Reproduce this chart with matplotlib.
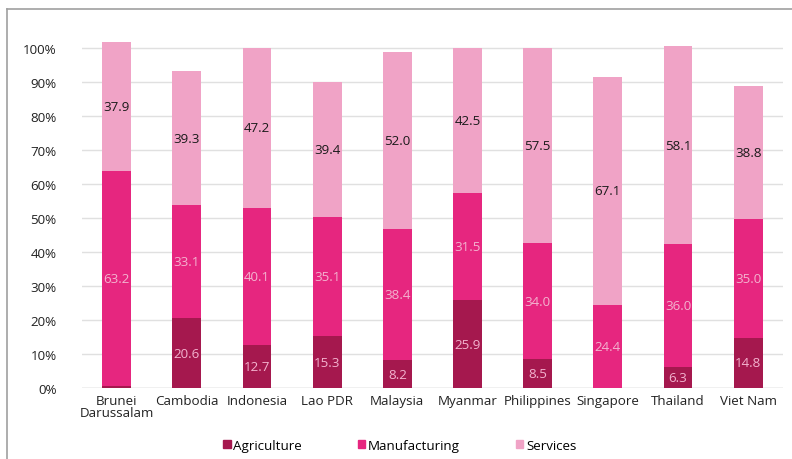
import matplotlib.pyplot as plt
import numpy as np
from matplotlib.lines import Line2D

plt.rcParams['font.family'] = ['Open Sans', 'DejaVu Sans']

countries = ["Brunei\nDarussalam", "Cambodia", "Indonesia", "Lao PDR", "Malaysia",
             "Myanmar", "Philippines", "Singapore", "Thailand", "Viet Nam"]
agriculture = [0.5, 20.6, 12.7, 15.3, 8.2, 25.9, 8.5, 0.0, 6.3, 14.8]
manufacturing = [63.2, 33.1, 40.1, 35.1, 38.4, 31.5, 34.0, 24.4, 36.0, 35.0]
services = [37.9, 39.3, 47.2, 39.4, 52.0, 42.5, 57.5, 67.1, 58.1, 38.8]

col_agri = "#a5184e"
col_manu = "#e6267f"
col_serv = "#f0a3c6"
label_light = "#f3b3cf"

fig = plt.figure(figsize=(7.92, 4.60), dpi=100)
ax = fig.add_axes([0.103, 0.154, 0.886, 0.77])

x = np.arange(len(countries))
w = 0.41
agri = np.array(agriculture)
manu = np.array(manufacturing)
serv = np.array(services)

ax.bar(x, agri, w, color=col_agri, zorder=2)
ax.bar(x, manu, w, bottom=agri, color=col_manu, zorder=2)
ax.bar(x, serv, w, bottom=agri + manu, color=col_serv, zorder=2)

fs = 9.6
for i in x:
    if agri[i] > 1:
        ax.text(i, agri[i] / 2, f"{agri[i]:.1f}", ha="center", va="center",
                color=label_light, fontsize=fs, zorder=3)
    ax.text(i, agri[i] + manu[i] / 2, f"{manu[i]:.1f}", ha="center", va="center",
            color=label_light, fontsize=fs, zorder=3)
    ax.text(i, agri[i] + manu[i] + serv[i] / 2, f"{serv[i]:.1f}", ha="center",
            va="center", color="#1a1a1a", fontsize=fs, zorder=3)

ax.set_xlim(-0.5, 9.5)
ax.set_ylim(0, 104)
ax.set_yticks(np.arange(0, 101, 10))
ax.set_yticklabels([f"{v}%" for v in range(0, 101, 10)])
ax.set_xticks(x)
ax.set_xticklabels(countries, linespacing=0.9)
ax.tick_params(length=0, labelsize=fs, colors="#222222")
ax.tick_params(axis="y", pad=18)
ax.tick_params(axis="x", pad=4)
ax.grid(axis="y", color="#e0e0e0", linewidth=1, zorder=0)
for s in ax.spines.values():
    s.set_visible(False)
ax.axhline(0, color="#d0d0d0", linewidth=1, zorder=1)

handles = [plt.Rectangle((0, 0), 1, 1, color=c) for c in (col_agri, col_manu, col_serv)]
fig.legend(handles, ["Agriculture", "Manufacturing", "Services"], loc="center",
           bbox_to_anchor=(0.505, 0.03), ncol=3, frameon=False, fontsize=fs,
           handlelength=0.55, handleheight=0.55, handletextpad=0.2, columnspacing=4.2)

# frame lines (left and top)
fig.add_artist(Line2D([7 / 792, 7 / 792], [0, 1 - 9.5 / 460], color="#a0a0a0", linewidth=1.2))
fig.add_artist(Line2D([7 / 792, 1], [1 - 9.5 / 460, 1 - 9.5 / 460], color="#a0a0a0", linewidth=1.2))

fig.savefig("out.png", dpi=100)
